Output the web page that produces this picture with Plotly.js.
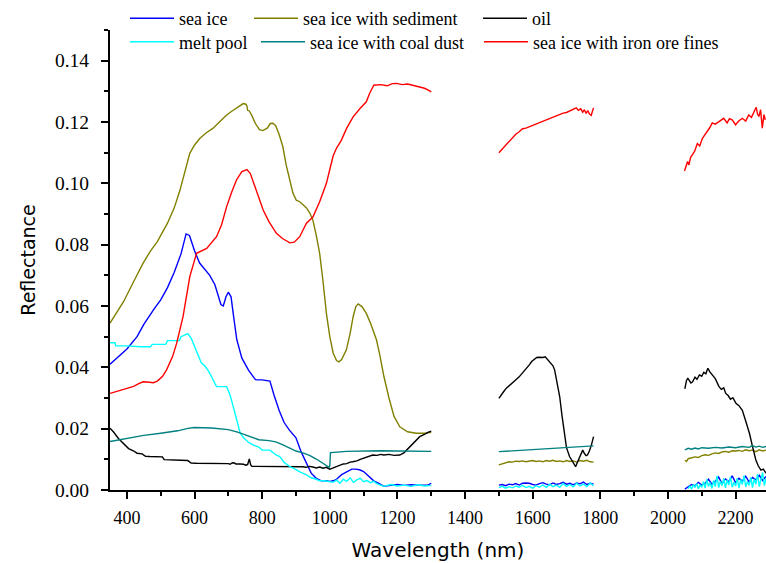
<!DOCTYPE html>
<html>
<head>
<meta charset="utf-8">
<script src="https://cdn.plot.ly/plotly-3.0.1.min.js"></script>
<style>html,body{margin:0;padding:0;background:#fff;}#chart{width:766px;height:563px;}</style>
</head>
<body>
<div id="chart"></div>
<script>
// ---- data (wavelength nm, reflectance); null = gap in measurement ----
const seaIceX = [350,380,400,430,450,480,500,520,540,560,575,585,600,615,630,645,660,670,678,685,693,700,708,715,725,740,760,780,785,800,823,835,850,865,880,900,915,930,945,960,975,990,1000,1010,1020,1035,1050,1065,1075,1088,1100,1115,1130,1145,1160,1180,1200,1220,1240,1260,1280,1290,1300,
 1400,
 1500,1510,1520,1530,1540,1550,1560,1570,1580,1590,1600,1610,1620,1630,1640,1650,1660,1670,1680,1690,1700,1710,1720,1730,1740,1750,1760,1770,1780,
 1900,
 2050,2060,2070,2080,2090,2100,2110,2120,2130,2140,2150,2160,2170,2180,2190,2200,2210,2220,2230,2240,2250,2260,2270,2280,2290];
const seaIceY = [.041,.044,.046,.050,.054,.059,.062,.066,.071,.077,.0835,.083,.078,.074,.072,.070,.067,.063,.0605,.060,.063,.0645,.063,.057,.049,.043,.039,.036,.0359,.0359,.0355,.031,.026,.022,.0196,.017,.0125,.009,.0055,.0038,.003,.003,.0028,.003,.0035,.005,.006,.0068,.0068,.0066,.006,.0045,.003,.0022,.0012,.0015,.0018,.0015,.0017,.0016,.0015,.0016,.0022,
 null,
 .0016,.0018,.0014,.0019,.0017,.0021,.0016,.0022,.0023,.0022,.0018,.0016,.0021,.0024,.0019,.0017,.0023,.0018,.0021,.0025,.0019,.0022,.0017,.0023,.0020,.0026,.0018,.0022,.0019,
 null,
 .0003,.0012,.0018,.0014,.0025,.0016,.0022,.0035,.0019,.0028,.0042,.0021,.0036,.0027,.0046,.0024,.0038,.0029,.0045,.0026,.0041,.0033,.0048,.0031,.0044];

const sedimentX = [350,370,390,420,448,470,490,520,540,557,572,586,600,616,635,655,675,695,710,724,735,744,752,755,757,762,770,780,792,802,815,824,832,840,850,861,871,881,891,901,911,921,931,941,950,960,970,980,990,1000,1010,1020,1027,1035,1049,1060,1069,1077,1084,1095,1108,1120,1138,1148,1160,1175,1190,1207,1230,1256,1280,1300,
 1400,
 1500,1510,1520,1530,1540,1550,1560,1570,1580,1590,1600,1610,1620,1630,1640,1650,1660,1670,1680,1690,1700,1710,1720,1730,1740,1750,1760,1770,1780,
 1900,
 2050,2055,2060,2070,2080,2090,2100,2110,2120,2130,2140,2150,2160,2170,2180,2190,2200,2210,2220,2230,2240,2250,2260,2270,2280,2290];
const sedimentY = [.0544,.058,.0614,.068,.074,.078,.081,.087,.092,.0978,.104,.1098,.1125,.1147,.1165,.118,.1202,.1223,.1235,.1245,.1255,.126,.1258,.1252,.1238,.1236,.122,.1195,.1175,.1172,.118,.1195,.1196,.1188,.116,.112,.106,.101,.0968,.0945,.094,.093,.092,.0903,.088,.083,.0772,.068,.0576,.050,.0446,.0422,.0418,.0425,.0457,.051,.0565,.0598,.0607,.0598,.0576,.0545,.049,.044,.037,.030,.024,.0206,.019,.0185,.0185,.0188,
 null,
 .0082,.0086,.0089,.0092,.0091,.0094,.0093,.0095,.0092,.0094,.0096,.0093,.0095,.0092,.0096,.0094,.0097,.0093,.0095,.0092,.0096,.0093,.0095,.0091,.0096,.0094,.0097,.0092,.0091,
 null,
 .0097,.0093,.0102,.0104,.0108,.0106,.0112,.0115,.0113,.0118,.0121,.0119,.0124,.0126,.0123,.0128,.0127,.0129,.0126,.0131,.0128,.013,.0125,.0131,.0127,.013];

const oilX = [350,360,375,390,405,419,430,445,455,468,490,505,510,522,560,580,590,606,650,700,705,712,718,722,735,745,750,757,762,766,770,800,850,900,920,930,940,950,960,970,980,990,1000,1010,1020,1030,1040,1050,1060,1068,1080,1090,1100,1110,1120,1127,1140,1150,1160,1175,1190,1207,1220,1236,1250,1266,1280,1290,1300,
 1400,
 1500,1507,1515,1522,1535,1548,1560,1570,1580,1590,1597,1605,1612,1620,1630,1637,1644,1652,1660,1665,1672,1680,1687,1694,1700,1709,1718,1727,1733,1739,1744,1748,1753,1758,1762,1768,1774,1780,
 1900,
 2050,2055,2059,2063,2068,2073,2080,2086,2093,2100,2106,2112,2118,2124,2132,2140,2151,2158,2165,2171,2178,2185,2192,2201,2210,2220,2230,2241,2250,2260,2267,2275,2282,2290];
const oilY = [.0201,.019,.0168,.015,.0135,.0128,.012,.0118,.011,.0109,.0108,.0108,.0099,.0098,.0097,.0096,.0088,.0087,.0087,.0086,.0084,.0089,.0088,.0085,.0085,.0084,.0081,.0083,.0101,.0082,.0077,.0077,.0077,.0076,.0076,.0074,.0077,.0075,.0072,.0075,.0071,.0074,.0068,.0072,.0076,.008,.0085,.0086,.0091,.0092,.0095,.010,.0104,.0108,.0111,.0114,.0113,.0116,.0114,.0116,.0113,.0114,.0122,.0141,.0158,.0174,.0181,.0188,.0192,
 null,
 .0299,.0308,.0322,.0332,.0343,.0357,.0369,.0381,.0395,.0408,.0419,.0426,.0432,.0433,.0432,.0434,.0424,.0416,.0405,.0391,.0355,.0304,.024,.0174,.0138,.0109,.0093,.0076,.0092,.0109,.0121,.013,.0119,.0112,.0114,.0128,.0148,.0174,
 null,
 .033,.0358,.0364,.0355,.0349,.0353,.0368,.0361,.0375,.0371,.0384,.0379,.0397,.0385,.0375,.0363,.0337,.0328,.0333,.0315,.0308,.0296,.0301,.0283,.0275,.026,.0225,.0185,.0142,.0098,.0079,.0065,.0068,.0055];

const meltPoolX = [350,365,367,400,440,445,470,475,500,515,520,555,560,575,580,590,600,610,620,630,640,650,660,665,695,705,715,725,735,745,760,773,790,800,823,840,852,865,882,895,910,931,945,960,970,985,1000,1010,1020,1030,1040,1050,1060,1070,1080,1090,1100,1110,1120,1130,1140,1150,1160,1180,1200,1220,1240,1260,1280,1300,
 1400,
 1500,1510,1520,1530,1540,1550,1560,1570,1580,1590,1600,1610,1620,1630,1640,1650,1660,1670,1680,1690,1700,1710,1720,1730,1740,1750,1760,1770,1780,
 1900,
 2060,2065,2070,2075,2080,2085,2090,2095,2100,2105,2110,2115,2120,2125,2130,2135,2140,2145,2150,2155,2160,2165,2170,2175,2180,2185,2190,2195,2200,2205,2210,2215,2220,2225,2230,2235,2240,2245,2250,2255,2260,2265,2270,2275,2280,2285,2290];
const meltPoolY = [.048,.048,.047,.047,.0467,.0467,.0467,.0475,.0475,.0475,.0487,.0487,.050,.0506,.051,.0495,.047,.044,.0415,.0405,.039,.037,.0345,.0337,.0337,.031,.027,.023,.0185,.017,.0155,.0147,.014,.013,.013,.0115,.0109,.009,.0076,.007,.006,.0049,.004,.0035,.003,.003,.0028,.0025,.0032,.0022,.0035,.0028,.004,.0025,.0033,.0038,.0027,.0031,.0024,.0028,.002,.0015,.0012,.0018,.0013,.0016,.0012,.0017,.0013,.0015,
 null,
 .0008,.0012,.0006,.0011,.0007,.0013,.0009,.0015,.0008,.0012,.0006,.0014,.0009,.0017,.0008,.0019,.0011,.0016,.0009,.0021,.0012,.0018,.001,.0022,.0013,.0019,.0011,.0023,.0014,
 null,
 .0005,.0012,.0003,.0018,.0008,.0021,.0004,.0016,.0009,.0027,.0006,.0035,.0012,.0024,.0005,.0031,.0011,.0046,.0008,.0029,.0014,.0038,.0007,.0033,.0016,.0043,.0009,.0025,.0013,.0039,.0006,.0034,.0018,.0047,.001,.0028,.0015,.0041,.0008,.0036,.0019,.0052,.0011,.0031,.0057,.0014,.0038];

const coalDustX = [350,400,450,500,550,580,600,650,700,730,760,790,820,840,860,880,900,920,940,960,980,998,1000,1002,1050,1100,1150,1200,1250,1300,
 1400,
 1500,1550,1600,1650,1700,1750,1780,
 1900,
 2050,2060,2070,2080,2090,2100,2120,2140,2160,2180,2200,2220,2240,2250,2260,2270,2280,2290];
const coalDustY = [.0158,.0168,.0178,.0185,.0193,.0201,.0204,.0202,.0197,.0188,.0175,.0164,.0161,.0157,.0148,.0138,.0127,.0121,.0113,.0101,.0088,.0074,.0078,.0122,.0126,.0128,.0128,.0127,.0126,.0126,
 null,
 .0125,.0128,.0132,.0135,.0138,.0141,.0144,
 null,
 .0131,.0136,.0133,.0137,.0134,.0138,.0136,.0139,.0137,.014,.0138,.0142,.0139,.0145,.014,.0143,.0139,.0142];

const ironOreX = [350,380,400,420,435,448,460,478,490,505,517,535,547,566,586,606,636,665,680,695,710,724,740,750,755,765,780,803,820,842,860,882,895,911,931,950,970,990,1000,1010,1020,1034,1050,1069,1090,1108,1118,1124,1130,1150,1170,1185,1197,1215,1230,1245,1266,1280,1290,1300,
 1400,
 1500,1510,1520,1530,1541,1550,1560,1570,1580,1591,1600,1610,1620,1630,1640,1650,1660,1670,1680,1690,1700,1710,1720,1729,1735,1742,1748,1753,1758,1763,1768,1773,1777,1780,
 1900,
 2049,2055,2058,2062,2067,2072,2079,2087,2094,2102,2109,2117,2124,2131,2140,2151,2158,2165,2175,2182,2190,2200,2210,2220,2230,2239,2247,2254,2261,2265,2269,2274,2279,2284,2288];
const ironOreY = [.0315,.0325,.0332,.0338,.0347,.0353,.0352,.035,.0355,.037,.0391,.0435,.0478,.0565,.0696,.0772,.0788,.0826,.0865,.0924,.0972,.1011,.1038,.1044,.1045,.1032,.0985,.0913,.0875,.0837,.082,.0806,.0808,.0826,.087,.089,.094,.100,.1045,.109,.1115,.114,.118,.1217,.1245,.1266,.1294,.131,.132,.1322,.1318,.1325,.1326,.1322,.1324,.132,.1315,.131,.1305,.1298,
 null,
 .110,.1112,.1125,.1138,.1152,.116,.1168,.1178,.118,.1185,.1188,.1193,.1196,.1201,.1207,.121,.1216,.1219,.1224,.1229,.1231,.1237,.1241,.1246,.1238,.1243,.1232,.124,.1228,.1237,.1226,.1222,.1236,.1246,
 null,
 .104,.1062,.1071,.106,.1085,.1093,.1105,.113,.1122,.1147,.1158,.1174,.1182,.1197,.1193,.1201,.1206,.1212,.1197,.1211,.1207,.1191,.1204,.1212,.1203,.1223,.1215,.1234,.1248,.1226,.1218,.124,.118,.1224,.1207];

const tickVals = [400,600,800,1000,1200,1400,1600,1800,2000,2200];
const tickText = ['400','600','800','1000','1200','1400','1600','1800','2000','2200'];

const series = [
  {name:'sea ice', x:seaIceX, y:seaIceY, color:'#0000ff', legend:'legend'},
  {name:'sea ice with sediment', x:sedimentX, y:sedimentY, color:'#808000', legend:'legend2'},
  {name:'oil', x:oilX, y:oilY, color:'#000000', legend:'legend3'},
  {name:'melt pool', x:meltPoolX, y:meltPoolY, color:'#00ffff', legend:'legend4'},
  {name:'sea ice with coal dust', x:coalDustX, y:coalDustY, color:'#008080', legend:'legend5'},
  {name:'sea ice with iron ore fines', x:ironOreX, y:ironOreY, color:'#ff0000', legend:'legend6'}
];

const traces = series.map(s => ({
  type:'scatter', mode:'lines', name:s.name, x:s.x, y:s.y,
  line:{color:s.color, width:1.4}, connectgaps:false, legend:s.legend
}));

const serif = 'Liberation Serif';
const W = 656, H = 460, L = 110, T = 30;
function legendAt(px, py) {
  return {
    orientation:'v', xanchor:'left', yanchor:'middle',
    x:(px - L) / W, y:1 + (T - py) / H,
    bgcolor:'rgba(0,0,0,0)', borderwidth:0, itemwidth:44,
    font:{family:serif, size:18, color:'#000'}
  };
}

const layout = {
  width:766, height:563,
  margin:{l:110, r:0, t:30, b:73, pad:0},
  paper_bgcolor:'#fff', plot_bgcolor:'#fff',
  showlegend:true,
  legend:legendAt(125, 18),
  legend2:legendAt(249, 18),
  legend3:legendAt(478, 18),
  legend4:legendAt(125, 42),
  legend5:legendAt(256, 42),
  legend6:legendAt(479, 42),
  xaxis:{
    range:[350,2290], showgrid:false, zeroline:false,
    showline:true, linecolor:'#000', linewidth:2,
    ticks:'outside', ticklen:7, tickwidth:2, tickcolor:'#000',
    tickmode:'array', tickvals:tickVals, ticktext:tickText,
    minor:{ticks:'outside', ticklen:4, tickwidth:2, tickcolor:'#000', dtick:100, tick0:300},
    tickfont:{family:serif, size:18, color:'#000'}, ticklabelstandoff:3,
    title:{text:'Wavelength (nm)', font:{family:'DejaVu Sans', size:20, color:'#000'}, standoff:16}
  },
  yaxis:{
    range:[0,0.15], showgrid:false, zeroline:false,
    showline:true, linecolor:'#000', linewidth:2,
    ticks:'outside', ticklen:7, tickwidth:2, tickcolor:'#000',
    dtick:0.02, tick0:0, tickformat:'.2f',
    minor:{ticks:'outside', ticklen:4, tickwidth:2, tickcolor:'#000', dtick:0.01},
    tickfont:{family:serif, size:19.5, color:'#000'}, ticklabelstandoff:8,
    title:{text:'Reflectance', font:{family:'DejaVu Sans', size:19, color:'#000'}, standoff:14}
  }
};

Plotly.newPlot('chart', traces, layout, {displayModeBar:false, staticPlot:true});
</script>
</body>
</html>
